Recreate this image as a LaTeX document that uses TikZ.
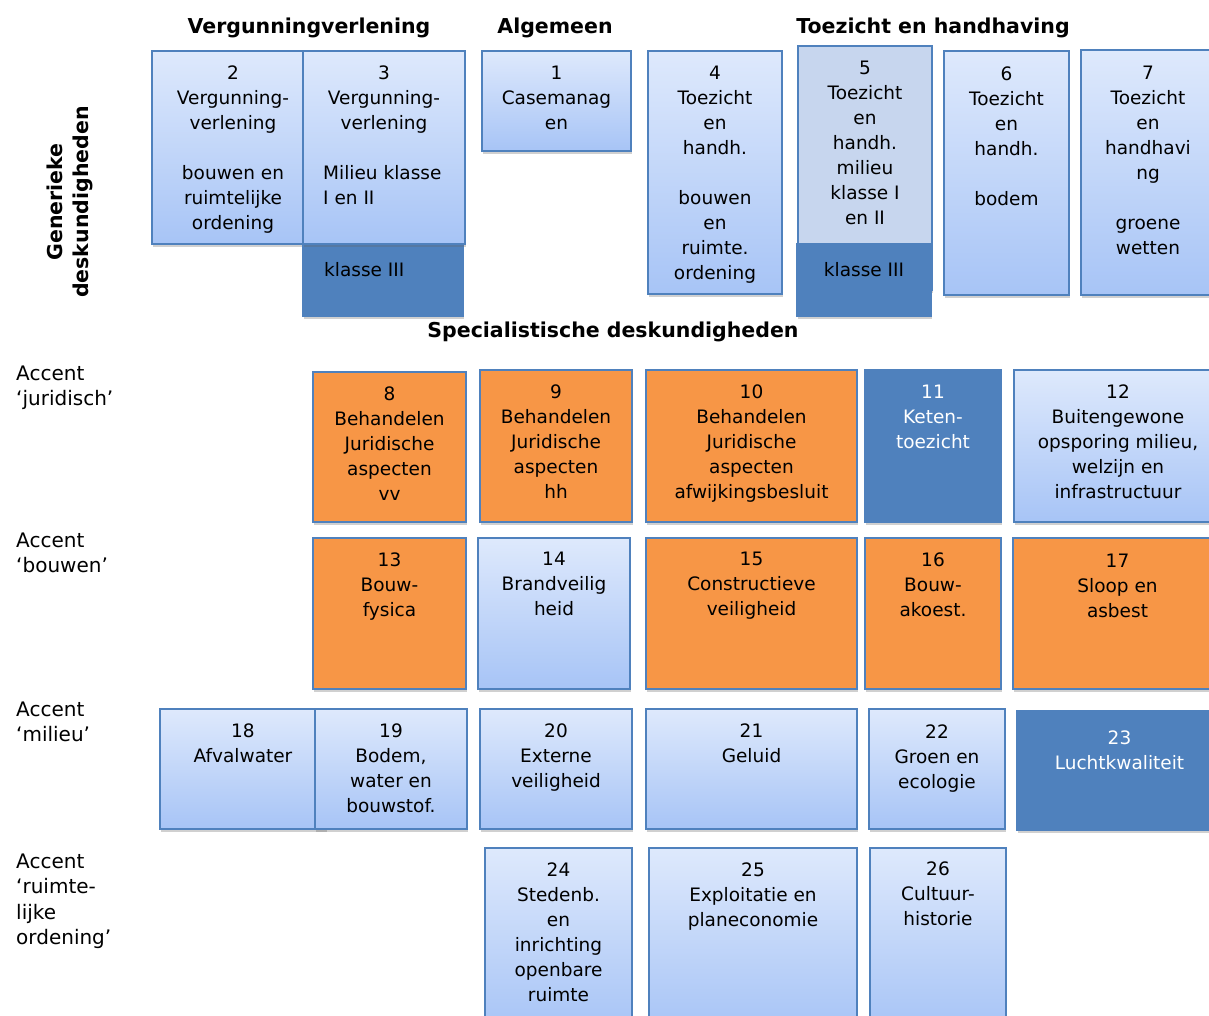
\documentclass[tikz,border=0pt]{standalone}
\usepackage{fontspec}
\setmainfont{DejaVu Sans}
\usetikzlibrary{shadows}
\definecolor{ltop}{HTML}{DEE9FC}
\definecolor{lbot}{HTML}{A7C4F6}
\definecolor{bord}{HTML}{4F81BD}
\definecolor{dkb}{HTML}{4F81BD}
\definecolor{orng}{HTML}{F79646}
\definecolor{pale}{HTML}{C7D6EE}
\newcommand\tstrut{\rule{0pt}{16pt}}
\tikzset{
  boxbase/.style={rectangle, draw=bord, line width=1.2pt, inner sep=0pt, outer sep=0pt,
    drop shadow={shadow xshift=1pt, shadow yshift=-3pt, opacity=0.3, fill=black!60}},
  lightbox/.style={boxbase, top color=ltop, bottom color=lbot},
  darkbox/.style={boxbase, fill=dkb},
  orbox/.style={boxbase, fill=orng},
  palebox/.style={boxbase, fill=pale},
  boxtxt/.style={align=center, inner sep=0pt, font=\fontsize{18.5pt}{25pt}\selectfont, text=black},
  whitetxt/.style={boxtxt, text=white},
  headtxt/.style={font=\fontsize{20.5pt}{26pt}\selectfont\bfseries, inner sep=0pt},
  sidetxt/.style={align=left, inner sep=0pt, font=\fontsize{20pt}{25.5pt}\selectfont},
}
% name, x1, y1, x2, y2, box style, baseline y, text style, text
\newcommand\bx[9]{%
  \node[#6, minimum width={(#4-#2)*1pt}, minimum height={(#5-#3)*1pt}] (#1) at ({(#2+#4)/2},{(#3+#5)/2}) {};
  \node[#8, anchor=north] (#1t) at ({(#2+#4)/2},{#7-16}) {\tstrut#9};
}
\begin{document}
\begin{tikzpicture}[x=1pt,y=-1pt]
\useasboundingbox (0,0) rectangle (1209,1015);
\fill[white] (0,0) rectangle (1209,1015);

% headers
\node[headtxt, anchor=base] (hv) at (309,33) {Vergunningverlening};
\node[headtxt, anchor=base] (ha) at (555,33) {Algemeen};
\node[headtxt, anchor=base] (ht) at (933,33) {Toezicht en handhaving};
\node[headtxt, align=center, rotate=90] (hg) at (70,202) {Generieke\\deskundigheden};
\node[headtxt, anchor=base] (hs) at (613,337) {Specialistische deskundigheden};

% side labels
\node[sidetxt, anchor=north west] (sj) at (16,{380-16}) {\tstrut Accent\\‘juridisch’};
\node[sidetxt, anchor=north west] (sb) at (16,{547-16}) {\tstrut Accent\\‘bouwen’};
\node[sidetxt, anchor=north west] (sm) at (16,{716-16}) {\tstrut Accent\\‘milieu’};
\node[sidetxt, anchor=north west] (sr) at (16,{868-16}) {\tstrut Accent\\‘ruimte-\\lijke\\ordening’};

% top row
\bx{b2}{152}{51}{314}{244}{lightbox}{79}{boxtxt}{2\\Vergunning-\\verlening\\\mbox{}\\bouwen en\\ruimtelijke\\ordening}
\bx{k3}{303}{244}{463}{316}{darkbox}{276}{boxtxt}{}
\node[boxtxt, anchor=base west] (k3t) at (324,276) {klasse III};
\bx{b3}{303}{51}{465}{244}{lightbox}{79}{boxtxt}{3\\Vergunning-\\verlening}
\node[boxtxt, align=left, anchor=north west] (b3m) at (323,{179-16}) {\tstrut Milieu klasse\\I en II};
\bx{b1}{482}{51}{631}{151}{lightbox}{79}{boxtxt}{1\\Casemanag\\en}
\bx{b4}{648}{51}{782}{294}{lightbox}{79}{boxtxt}{4\\Toezicht\\en\\handh.\\\mbox{}\\bouwen\\en\\ruimte.\\ordening}
\bx{b5}{798}{46}{932}{290}{palebox}{74}{boxtxt}{5\\Toezicht\\en\\handh.\\milieu\\klasse I\\en II}
\bx{k5}{797}{244}{931}{316}{darkbox}{276}{boxtxt}{klasse III}
\bx{b6}{944}{51}{1069}{295}{lightbox}{80}{boxtxt}{6\\Toezicht\\en\\handh.\\\mbox{}\\bodem}
\bx{b7}{1081}{50}{1215}{295}{lightbox}{79}{boxtxt}{7\\Toezicht\\en\\handhavi\\ng\\\mbox{}\\groene\\wetten}

% row juridisch
\bx{b8}{313}{372}{466}{522}{orbox}{400}{boxtxt}{8\\Behandelen\\Juridische\\aspecten\\vv}
\bx{b9}{480}{370}{632}{522}{orbox}{398}{boxtxt}{9\\Behandelen\\Juridische\\aspecten\\hh}
\bx{b10}{646}{370}{857}{522}{orbox}{398}{boxtxt}{10\\Behandelen\\Juridische\\aspecten\\afwijkingsbesluit}
\bx{b11}{865}{370}{1001}{522}{darkbox}{398}{whitetxt}{11\\Keten-\\toezicht}
\bx{b12}{1014}{370}{1222}{522}{lightbox}{398}{boxtxt}{12\\Buitengewone\\opsporing milieu,\\welzijn en\\infrastructuur}

% row bouwen
\bx{b13}{313}{538}{466}{689}{orbox}{566}{boxtxt}{13\\Bouw-\\fysica}
\bx{b14}{478}{538}{630}{689}{lightbox}{565}{boxtxt}{14\\Brandveilig\\heid}
\bx{b15}{646}{538}{857}{689}{orbox}{565}{boxtxt}{15\\Constructieve\\veiligheid}
\bx{b16}{865}{538}{1001}{689}{orbox}{566}{boxtxt}{16\\Bouw-\\akoest.}
\bx{b17}{1013}{538}{1222}{689}{orbox}{567}{boxtxt}{17\\Sloop en\\asbest}

% row milieu
\bx{b18}{160}{709}{326}{829}{lightbox}{737}{boxtxt}{18\\Afvalwater}
\bx{b19}{315}{709}{467}{829}{lightbox}{737}{boxtxt}{19\\Bodem,\\water en\\bouwstof.}
\bx{b20}{480}{709}{632}{829}{lightbox}{737}{boxtxt}{20\\Externe\\veiligheid}
\bx{b21}{646}{709}{857}{829}{lightbox}{737}{boxtxt}{21\\Geluid}
\bx{b22}{869}{709}{1005}{829}{lightbox}{738}{boxtxt}{22\\Groen en\\ecologie}
\bx{b23}{1017}{711}{1222}{830}{darkbox}{744}{whitetxt}{23\\Luchtkwaliteit}

% row ruimtelijke ordening
\bx{b24}{485}{848}{632}{1030}{lightbox}{876}{boxtxt}{24\\Stedenb.\\en\\inrichting\\openbare\\ruimte}
\bx{b25}{649}{848}{857}{1030}{lightbox}{876}{boxtxt}{25\\Exploitatie en\\planeconomie}
\bx{b26}{870}{848}{1006}{1030}{lightbox}{875}{boxtxt}{26\\Cultuur-\\historie}
\end{tikzpicture}
\end{document}
